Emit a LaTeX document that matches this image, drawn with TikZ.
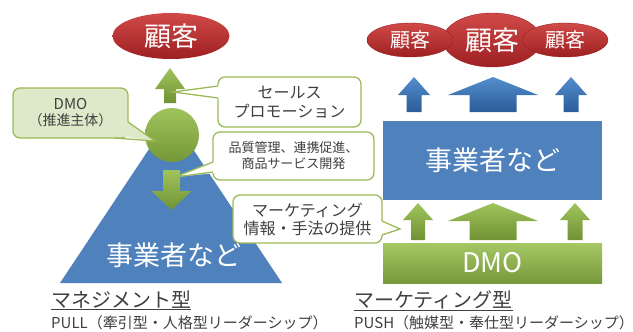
\documentclass[tikz,border=0pt]{standalone}
\usepackage{fontspec}
\setmainfont{Noto Sans CJK JP}
\usetikzlibrary{shapes.geometric,calc}
\definecolor{redT}{RGB}{208,74,72}
\definecolor{redB}{RGB}{158,32,34}
\definecolor{blueM}{RGB}{79,129,189}
\definecolor{blueT}{RGB}{84,142,206}
\definecolor{blueB}{RGB}{42,92,152}
\definecolor{grnT}{RGB}{160,196,92}
\definecolor{grnB}{RGB}{112,146,52}
\definecolor{grnLine}{RGB}{155,187,89}
\definecolor{dmoFill}{RGB}{221,233,200}
\definecolor{txtGray}{RGB}{64,64,64}
\newcommand\myuparrow[7]{\path[#1] (#2,#3) -- ({#2+#4},#5) -- ({#2+#6},#5) -- ({#2+#6},#7) -- ({#2-#6},#7) -- ({#2-#6},#5) -- ({#2-#4},#5) -- cycle;}
\newcommand\mydownarrow[7]{\path[#1] (#2,#3) -- ({#2+#4},#5) -- ({#2+#6},#5) -- ({#2+#6},#7) -- ({#2-#6},#7) -- ({#2-#6},#5) -- ({#2-#4},#5) -- cycle;}
\tikzset{
  redell/.style={ellipse, top color=redT, bottom color=redB, draw=redB, line width=0.4pt, text=white, inner sep=0pt},
  grnarrow/.style={top color=grnT, bottom color=grnB},
  bluearrow/.style={top color=blueT, bottom color=blueB},
  callbox/.style={draw=grnLine, line width=1.3pt, rounded corners=7pt, fill=white, text=txtGray, align=center, inner sep=0pt},
  callline/.style={draw=grnLine, line width=1.3pt, line join=miter},
  lbl/.style={text=txtGray, inner sep=0pt, anchor=base west},
}
\begin{document}
\begin{tikzpicture}[x=1pt,y=-1pt]
\path[use as bounding box] (0,0) rectangle (633,332);

% ---------- left: management type ----------
\path[fill=blueM] (171,116) -- (282,283) -- (60,283) -- cycle;
\node[circle, minimum size=54pt, inner sep=0pt, top color=grnT, bottom color=grnB!90!grnT] (dmoc) at (172,135) {};
\myuparrow{grnarrow}{170}{68}{15}{89}{6}{103}
\mydownarrow{grnarrow}{171.5}{210}{20}{191}{8.5}{170}
\node[text=white, font=\fontsize{27}{30}\selectfont, inner sep=0pt] (bizL) at (174,255) {事業者など};
\node[redell, draw=none, minimum width=117pt, minimum height=46pt, font=\fontsize{27}{30}\selectfont] (custL) at (171,36) {顧客};

% DMO callout
\node[callbox, fill=dmoFill, minimum width=115pt, minimum height=50pt, font=\fontsize{15}{17}\selectfont] (dmo) at (70.5,113) {DMO\\[-1pt]{\fontsize{14}{17}\selectfont（推進主体）}};
\coordinate (dmotip) at (155,141);
\fill[dmoFill] (dmotip) -- (125,120) -- (125,136) -- (112,135) -- cycle;
\draw[callline] (128,122) -- (dmotip) -- (114,138);

% sales promotion callout
\node[callbox, minimum width=143pt, minimum height=50pt, font=\fontsize{16}{19}\selectfont] (sp) at (289.5,102) {セールス\\プロモーション};
\coordinate (sptip) at (173,92);
\fill[white] (sptip) -- (221,85) -- (221,99) -- cycle;
\draw[callline] (218,86) -- (sptip) -- (218,98);

% quality callout
\node[callbox, minimum width=161pt, minimum height=48pt, font=\fontsize{13}{16}\selectfont] (qc) at (293.5,156) {品質管理、連携促進、\\商品サービス開発};
\coordinate (qctip) at (175,177);
\fill[white] (qctip) -- (216,161) -- (216,173) -- cycle;
\draw[callline] (213,162) -- (qctip) -- (213,172);

% marketing callout
\node[callbox, minimum width=149pt, minimum height=48pt, font=\fontsize{16}{18}\selectfont] (mk) at (307.5,219) {マーケティング\\情報・手法の提供};
\coordinate (mktip) at (400,229);
\fill[white] (mktip) -- (379,220) -- (379,236) -- cycle;
\draw[callline] (382,221) -- (mktip) -- (382,235);

% ---------- right: marketing type ----------
\node[redell, minimum width=98pt, minimum height=54pt, font=\fontsize{27}{30}\selectfont] (custM) at (492,40) {顧客};
\node[redell, minimum width=86pt, minimum height=34pt, font=\fontsize{20}{22}\selectfont] (custA) at (410,40) {顧客};
\node[redell, minimum width=86pt, minimum height=34pt, font=\fontsize{20}{22}\selectfont] (custB) at (565,40) {顧客};

\myuparrow{bluearrow}{414}{77}{16}{95}{7.5}{112}
\myuparrow{bluearrow}{493}{77}{45}{95}{23.5}{112}
\myuparrow{bluearrow}{571}{77}{16}{95}{7.5}{112}

\node[rectangle, fill=blueM, minimum width=219pt, minimum height=79pt, inner sep=0pt, text=white, font=\fontsize{27}{30}\selectfont] (bizR) at (492.5,160.5) {事業者など};

\myuparrow{grnarrow}{418}{203}{15}{220}{7}{240}
\myuparrow{grnarrow}{493}{203}{45}{221}{23.5}{240}
\myuparrow{grnarrow}{575}{203}{15}{220}{7.5}{240}

\node[rectangle, top color=grnT!95!white, bottom color=grnB!85!grnT, minimum width=219pt, minimum height=40pt, inner sep=0pt, text=white, font=\fontsize{27}{28}\selectfont] (dmoR) at (492.5,263) {DMO};

% ---------- captions ----------
\node[lbl, font=\fontsize{20}{22}\selectfont] (capL) at (51,307) {\underline{マネジメント型}};
\node[lbl, font=\fontsize{15}{18}\selectfont] (subL) at (51,328) {PULL（牽引型・人格型リーダーシップ）};
\node[lbl, font=\fontsize{20}{22}\selectfont] (capR) at (354,307) {\underline{マーケティング型}};
\node[lbl, font=\fontsize{15}{18}\selectfont] (subR) at (354,328) {PUSH（触媒型・奉仕型リーダーシップ）};
\end{tikzpicture}
\end{document}
